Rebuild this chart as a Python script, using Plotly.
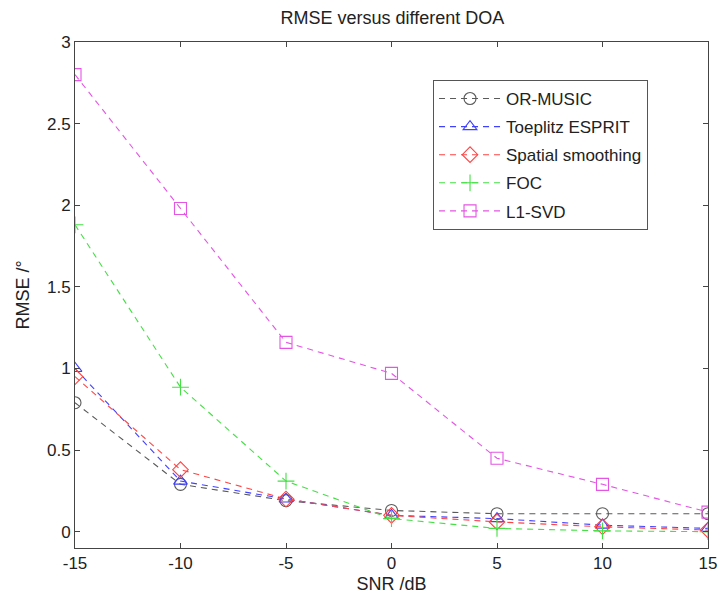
import plotly.graph_objects as go

snr = [-15, -10, -5, 0, 5, 10, 15]
snr_labels = ["-15", "-10", "-5", "0", "5", "10", "15"]
rmse_ticks = [0, 0.5, 1, 1.5, 2, 2.5, 3]
rmse_labels = ["0", "0.5", "1", "1.5", "2", "2.5", "3"]

or_music = [0.79, 0.29, 0.19, 0.13, 0.11, 0.11, 0.11]
toeplitz = [1.00, 0.31, 0.20, 0.10, 0.08, 0.04, 0.02]
spatial = [0.95, 0.38, 0.20, 0.10, 0.06, 0.03, 0.01]
foc = [1.88, 0.885, 0.31, 0.08, 0.02, 0.005, 0.0]
l1svd = [2.80, 1.98, 1.16, 0.97, 0.45, 0.29, 0.12]

series = [
    ("OR-MUSIC", or_music, "#5a5a5a", "circle-open"),
    ("Toeplitz ESPRIT", toeplitz, "#4040ff", "triangle-up-open"),
    ("Spatial smoothing", spatial, "#ff4444", "diamond-open"),
    ("FOC", foc, "#44e044", "cross-thin-open"),
    ("L1-SVD", l1svd, "#e455e4", "square-open"),
]

FONT = "Liberation Sans, Arial, sans-serif"

fig = go.Figure()
for i, (name, vals, col, sym) in enumerate(series):
    fig.add_trace(go.Scatter(
        x=snr, y=vals, name=name, mode="lines+markers", legendgroup=f"g{i}",
        line=dict(color=col, width=1.1, dash="6px,5px"),
        marker=dict(symbol=sym, size=12, color=col, line=dict(color=col, width=1.1)),
    ))

axis_common = dict(
    showgrid=False, zeroline=False, showline=True, linecolor="#444444", linewidth=1,
    mirror="ticks", ticks="inside", ticklen=5, tickcolor="#444444", automargin=False,
    tickfont=dict(size=17, color="#222222", family=FONT),
)

fig.update_layout(
    width=720, height=599,
    paper_bgcolor="white", plot_bgcolor="white",
    margin=dict(l=75, r=12, t=42, b=51),
    title=dict(text="RMSE versus different DOA", x=0.545, xanchor="center",
               y=1 - 18 / 599, yanchor="middle",
               font=dict(size=18, color="#222222", family=FONT)),
    font=dict(family=FONT, color="#222222"),
    xaxis=dict(range=[-15, 15], tickvals=snr, ticktext=snr_labels,
               title=dict(text="SNR /dB", standoff=4, font=dict(size=18)), **axis_common),
    yaxis=dict(range=[-0.1, 3], tickvals=rmse_ticks, ticktext=rmse_labels,
               title=dict(text="RMSE /°", standoff=12, font=dict(size=18)), **axis_common),
    legend=dict(x=0.5656, y=0.925, xanchor="left", yanchor="top",
                bordercolor="#555555", borderwidth=1, bgcolor="white",
                font=dict(size=17, color="#222222"), itemwidth=62, tracegroupgap=3),
    showlegend=True,
)

fig.write_html("out.html", config={"displayModeBar": False},
               post_script="document.body.style.margin='0';document.body.style.overflow='hidden';")
